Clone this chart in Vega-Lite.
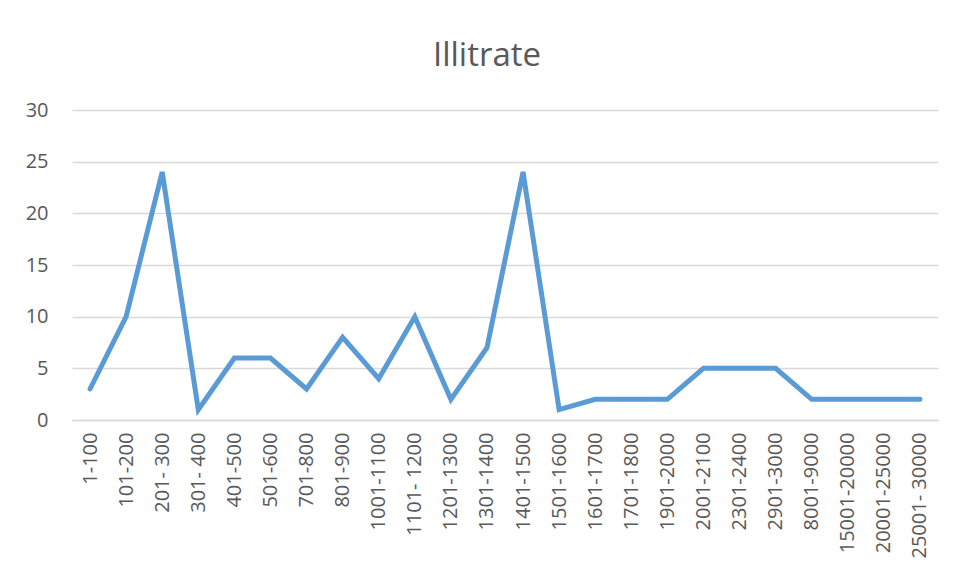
{
  "$schema": "https://vega.github.io/schema/vega-lite/v6.json",
  "width": 866,
  "height": 310,
  "autosize": {"type": "none"},
  "padding": {"left": 72, "top": 110, "right": 17, "bottom": 148},
  "background": "white",
  "title": {
    "text": "Illitrate",
    "font": "Open Sans",
    "fontSize": 33,
    "fontWeight": "normal",
    "color": "#595959",
    "anchor": "middle",
    "dx": -18,
    "offset": 27
  },
  "config": {
    "view": {"stroke": null},
    "font": "Open Sans"
  },
  "data": {
    "values": [
      {"range": "1-100", "count": 3},
      {"range": "101-200", "count": 10},
      {"range": "201- 300", "count": 24},
      {"range": "301- 400", "count": 1},
      {"range": "401-500", "count": 6},
      {"range": "501-600", "count": 6},
      {"range": "701-800", "count": 3},
      {"range": "801-900", "count": 8},
      {"range": "1001-1100", "count": 4},
      {"range": "1101- 1200", "count": 10},
      {"range": "1201-1300", "count": 2},
      {"range": "1301-1400", "count": 7},
      {"range": "1401-1500", "count": 24},
      {"range": "1501-1600", "count": 1},
      {"range": "1601-1700", "count": 2},
      {"range": "1701-1800", "count": 2},
      {"range": "1901-2000", "count": 2},
      {"range": "2001-2100", "count": 5},
      {"range": "2301-2400", "count": 5},
      {"range": "2901-3000", "count": 5},
      {"range": "8001-9000", "count": 2},
      {"range": "15001-20000", "count": 2},
      {"range": "20001-25000", "count": 2},
      {"range": "25001- 30000", "count": 2}
    ]
  },
  "mark": {
    "type": "line",
    "color": "#5B9BD5",
    "strokeWidth": 5,
    "strokeCap": "round",
    "strokeJoin": "miter"
  },
  "encoding": {
    "x": {
      "field": "range",
      "type": "ordinal",
      "sort": null,
      "scale": {"type": "point", "padding": 0.5},
      "axis": {
        "title": null,
        "labelAngle": -90,
        "labelFontSize": 20,
        "labelColor": "#595959",
        "labelPadding": 12,
        "ticks": false,
        "domainColor": "#d9d9d9",
        "domainWidth": 1.5,
        "grid": false
      }
    },
    "y": {
      "field": "count",
      "type": "quantitative",
      "scale": {"domain": [0, 30]},
      "axis": {
        "title": null,
        "values": [0, 5, 10, 15, 20, 25, 30],
        "labelFontSize": 20,
        "labelColor": "#595959",
        "labelPadding": 24,
        "ticks": false,
        "domain": false,
        "gridColor": "#d9d9d9",
        "gridWidth": 1.3
      }
    }
  }
}
